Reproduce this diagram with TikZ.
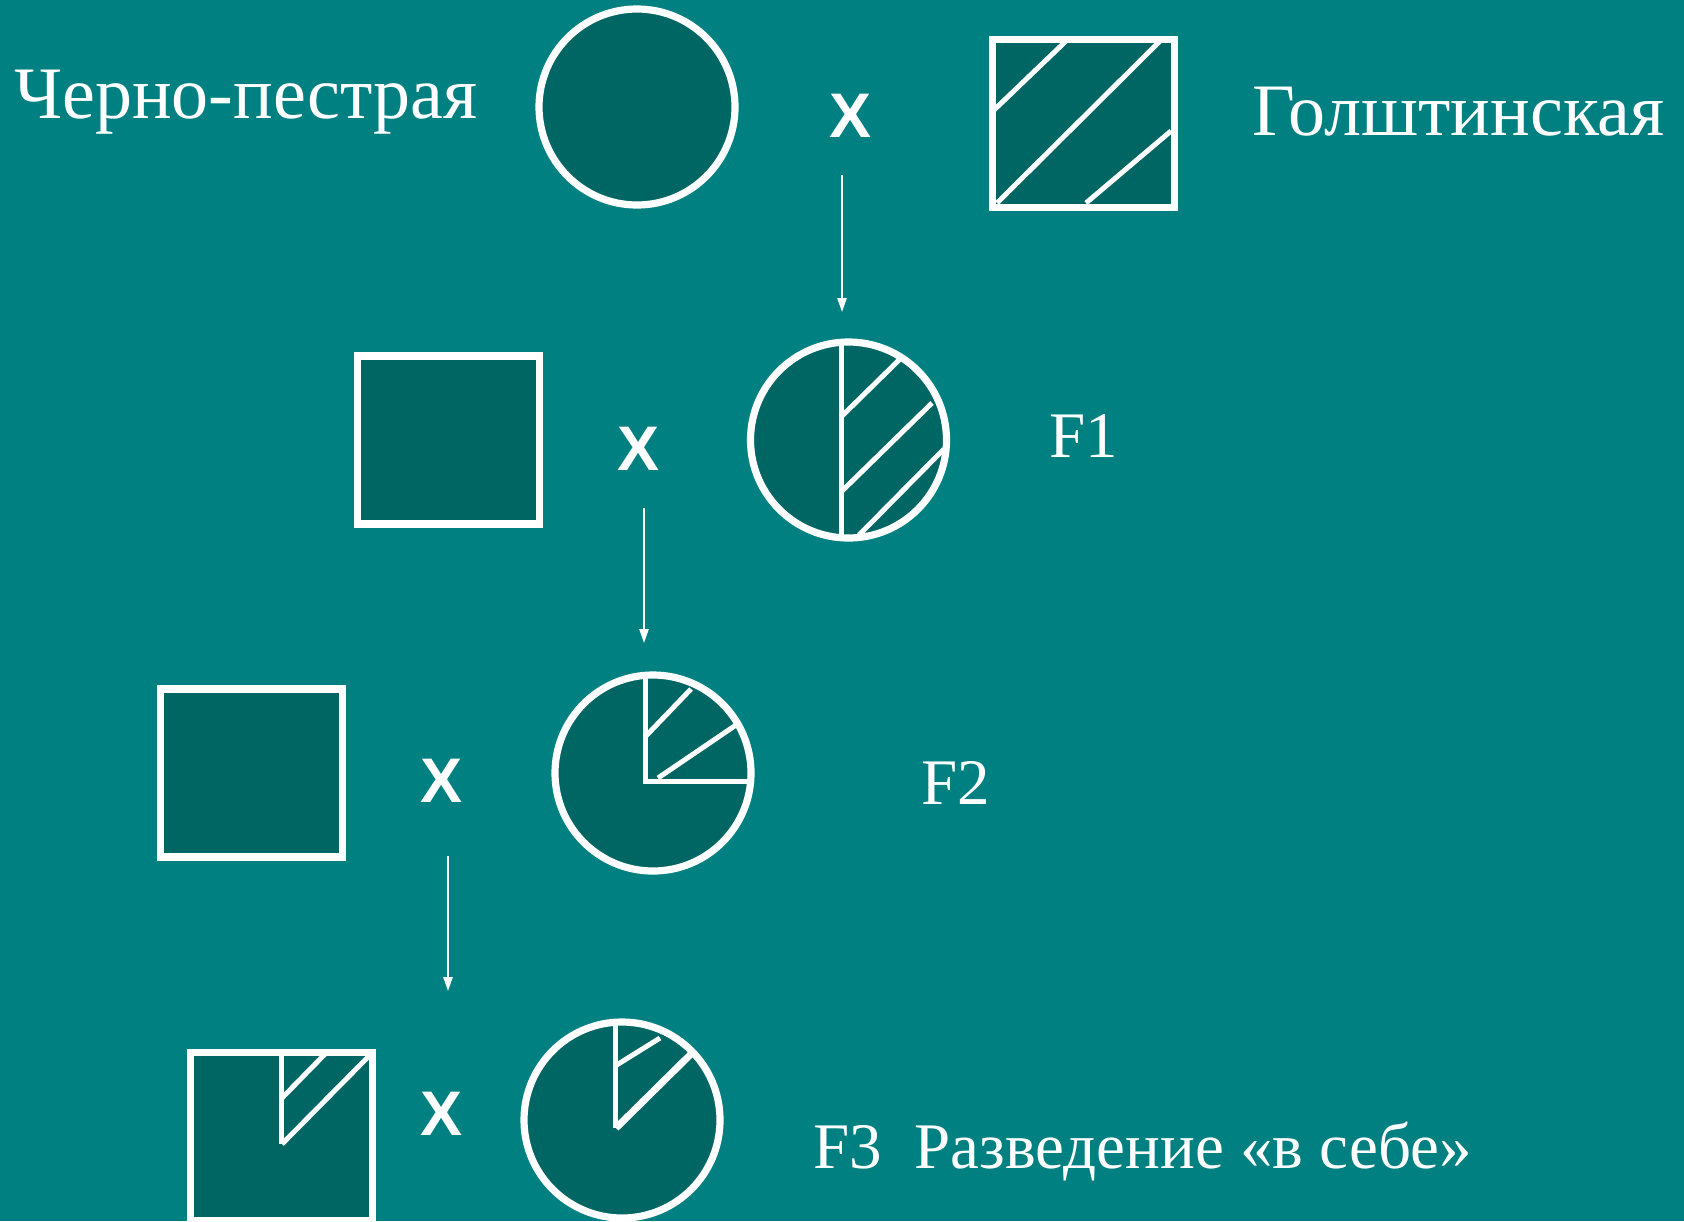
\documentclass[tikz,border=0pt]{standalone}
\usepackage{fontspec}
\setmainfont{Liberation Serif}
\newfontfamily\xfont{Liberation Sans}
\usetikzlibrary{arrows.meta}
\definecolor{bgteal}{RGB}{0,128,128}
\definecolor{darkteal}{RGB}{0,102,100}
\tikzset{
  shapeline/.style={draw=white, line width=3.6pt, fill=darkteal, inner sep=0pt, outer sep=0pt},
  circ/.style={shapeline, circle, minimum size=98pt},
  sq/.style={shapeline, rectangle, minimum width=91pt, minimum height=84pt},
  hatch/.style={white, line width=2.5pt},
  bigtext/.style={white, inner sep=0pt, anchor=base west, font=\fontsize{37pt}{37pt}\selectfont},
  ftext/.style={white, inner sep=0pt, anchor=base west, font=\fontsize{32.5pt}{32.5pt}\selectfont},
  cross/.style={white, inner sep=0pt, font=\xfont\bfseries\fontsize{31.5pt}{31.5pt}\selectfont},
  genarrow/.style={white, line width=1pt, -{Triangle[length=7pt,width=4.6pt]}}
}
\begin{document}
\begin{tikzpicture}[x=0.5pt, y=-0.5pt]
\fill[bgteal] (0,0) rectangle (1684,1221);
\useasboundingbox (0,0) rectangle (1684,1221);

% Row 1
\node[bigtext] (t1) at (14,118) {Черно-пестрая};
\node[circ] (c0) at (637,107) {};
\node[cross] (x1) at (850,116) {X};
\node[sq] (s0) at (1083.5,123.5) {};
\draw[hatch] (993,111) -- (1066,41);
\draw[hatch] (997,203) -- (1160,41);
\draw[hatch] (1086,203) -- (1171,131);
\node[bigtext] (t2) at (1252,135) {Голштинская};

% Row 2
\node[sq] (s1) at (448.5,440) {};
\node[cross] (x2) at (639,449) {X};
\node[circ] (c1) at (848.5,440) {};
\draw[hatch] (841,342) -- (841,538);
\draw[hatch] (841,417) -- (900,359);
\draw[hatch] (841,492) -- (932,403);
\draw[hatch] (859,535) -- (944,449);
\node[ftext] (f1) at (1049,457) {F1};

% Row 3
\node[sq] (s2) at (251.7,773) {};
\node[cross] (x3) at (442,781) {X};
\node[circ] (c2) at (653,773) {};
\draw[hatch, line join=miter] (645,676) -- (645,781) -- (750,781);
\draw[hatch] (645,737) -- (691,689);
\draw[hatch] (658,778) -- (736,725);
\node[ftext] (f2) at (921,804) {F2};

% Row 4
\node[sq] (s3) at (281.8,1136.5) {};
\draw[hatch] (281,1053) -- (281,1144);
\draw[hatch] (281,1099) -- (326,1053);
\draw[hatch] (282,1144) -- (370,1055);
\node[cross] (x4) at (442,1114) {X};
\node[circ] (c3) at (622,1120) {};
\draw[hatch] (615,1023) -- (615,1128);
\draw[hatch] (615,1066) -- (660,1038);
\draw[white, line width=3.5pt] (616,1128) -- (691,1054);
\node[ftext] (f3) at (813,1168) {F3\ \ Разведение «в себе»};

% Arrows
\coordinate (a1s) at (842,175);
\coordinate (a1e) at (842,312);
\coordinate (a2s) at (644,508);
\coordinate (a2e) at (644,643);
\coordinate (a3s) at (448,856);
\coordinate (a3e) at (448,991);
\draw[genarrow] (a1s) -- (a1e);
\draw[genarrow] (a2s) -- (a2e);
\draw[genarrow] (a3s) -- (a3e);
\end{tikzpicture}
\end{document}
